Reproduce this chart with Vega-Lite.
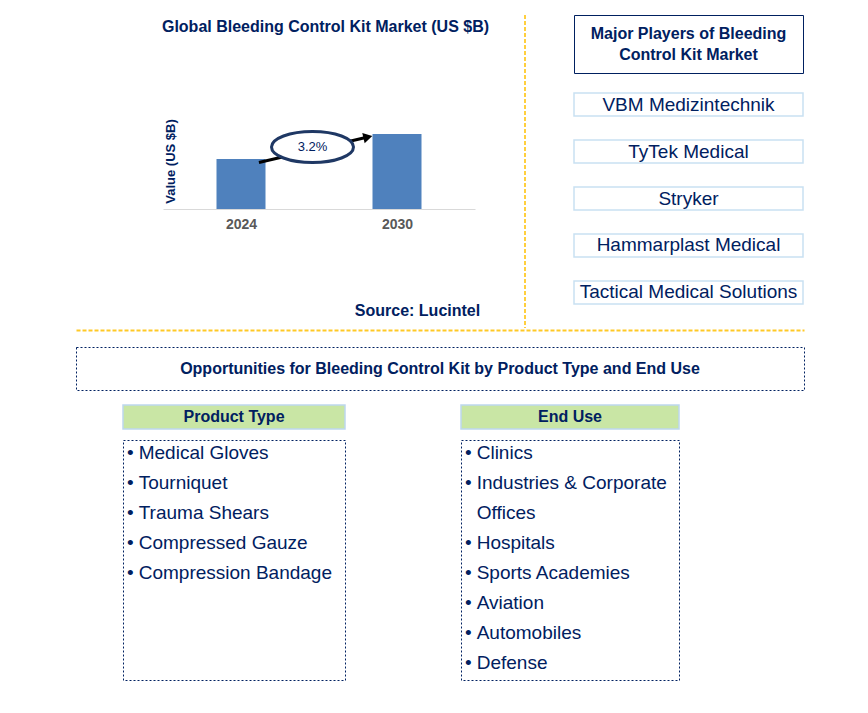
{
  "$schema": "https://vega.github.io/schema/vega-lite/v6.json",
  "background": "white",
  "padding": {"left": 75, "top": 14, "right": 0, "bottom": 0},
  "autosize": {"type": "pad"},
  "spacing": 0,
  "config": {
    "view": {"stroke": null},
    "font": "Liberation Sans"
  },
  "vconcat": [
    {
      "hconcat": [
        {
          "width": 449,
          "height": 313,
          "title": {
            "text": "Global Bleeding Control Kit Market (US $B)",
            "fontSize": 16,
            "fontWeight": "bold",
            "color": "#002060",
            "anchor": "middle",
            "frame": "group",
            "offset": 0,
            "dx": 25,
            "dy": 21
          },
          "layer": [
            {
              "data": {"values": [{}]},
              "mark": {"type": "rule", "color": "#FFC000", "strokeWidth": 1.5, "strokeDash": [4, 2]},
              "encoding": {"x": {"value": "width"}}
            },
            {
              "data": {"values": [
                {"year": 2024, "value": 1.0},
                {"year": 2030, "value": 1.5}
              ]},
              "mark": {"type": "bar", "size": 49, "color": "#4F81BD"},
              "encoding": {
                "x": {
                  "field": "year",
                  "type": "quantitative",
                  "scale": {"domain": [2021, 2033], "range": [87, 399], "padding": 0, "nice": false, "zero": false},
                  "axis": {
                    "orient": "bottom",
                    "offset": -119,
                    "values": [2024, 2030],
                    "format": "d",
                    "grid": false,
                    "ticks": false,
                    "tickSize": 0,
                    "domainColor": "#D9D9D9",
                    "domainWidth": 1,
                    "labelFontSize": 14,
                    "labelFontWeight": "bold",
                    "labelColor": "#595959",
                    "labelPadding": 8,
                    "title": "Source: Lucintel",
                    "titleFontSize": 16,
                    "titleFontWeight": "bold",
                    "titleColor": "#002060",
                    "titleX": 341,
                    "titleY": 101,
                    "titleAlign": "center",
                    "titleBaseline": "middle"
                  }
                },
                "y": {
                  "field": "value",
                  "type": "quantitative",
                  "scale": {"domain": [0, 2], "range": [194, 94], "nice": false},
                  "axis": {
                    "orient": "left",
                    "domain": false,
                    "ticks": false,
                    "labels": false,
                    "grid": false,
                    "title": "Value (US $B)",
                    "titleFontSize": 13,
                    "titleFontWeight": "bold",
                    "titleColor": "#002060",
                    "titleX": 94,
                    "titleY": 146,
                    "titleAngle": -90,
                    "titleAlign": "center",
                    "titleBaseline": "middle"
                  }
                }
              }
            },
            {
              "data": {"values": [
                {"start_year": 2024.69, "start_value": 0.93, "end_year": 2028.88, "end_value": 1.44, "label_year": 2026.75, "label_value": 1.24, "cagr": "3.2%"}
              ]},
              "layer": [
                {
                  "mark": {"type": "rule", "color": "black", "strokeWidth": 3},
                  "encoding": {
                    "x": {"field": "start_year", "type": "quantitative"},
                    "y": {"field": "start_value", "type": "quantitative"},
                    "x2": {"field": "end_year"},
                    "y2": {"field": "end_value"}
                  }
                },
                {
                  "mark": {"type": "point", "shape": "triangle-right", "size": 110, "filled": true, "color": "black", "opacity": 1, "angle": -13},
                  "encoding": {
                    "x": {"field": "end_year", "type": "quantitative"},
                    "y": {"field": "end_value", "type": "quantitative"}
                  }
                },
                {
                  "mark": {
                    "type": "point",
                    "shape": "M -1 0 A 1 0.38 0 1 1 1 0 A 1 0.38 0 1 1 -1 0 Z",
                    "size": 6724,
                    "filled": true,
                    "fill": "white",
                    "stroke": "#1F3864",
                    "strokeWidth": 3,
                    "opacity": 1
                  },
                  "encoding": {
                    "x": {"field": "label_year", "type": "quantitative"},
                    "y": {"field": "label_value", "type": "quantitative"}
                  }
                },
                {
                  "mark": {"type": "text", "fontSize": 13, "color": "#002060", "baseline": "middle"},
                  "encoding": {
                    "x": {"field": "label_year", "type": "quantitative"},
                    "y": {"field": "label_value", "type": "quantitative"},
                    "text": {"field": "cagr"}
                  }
                }
              ]
            }
          ]
        },
        {
          "vconcat": [
            {
              "width": 229,
              "height": 58,
              "view": {"stroke": "#002060", "strokeWidth": 1},
              "data": {"values": [{"heading": ["Major Players of Bleeding", "Control Kit Market"]}]},
              "mark": {"type": "text", "fontSize": 16, "fontWeight": "bold", "color": "#002060", "lineHeight": 21, "baseline": "middle", "dy": -10.5},
              "encoding": {"text": {"field": "heading"}}
            },
            {
              "width": 229,
              "height": 211,
              "data": {"values": [
                {"player": "VBM Medizintechnik"},
                {"player": "TyTek Medical"},
                {"player": "Stryker"},
                {"player": "Hammarplast Medical"},
                {"player": "Tactical Medical Solutions"}
              ]},
              "encoding": {
                "y": {"field": "player", "type": "nominal", "sort": null, "scale": {"paddingInner": 0.51, "paddingOuter": 0}, "axis": null}
              },
              "layer": [
                {
                  "mark": {"type": "rect", "fill": "white", "stroke": "#C9E1F2", "strokeWidth": 1.5},
                  "encoding": {"x": {"value": 0}, "x2": {"value": "width"}}
                },
                {
                  "mark": {"type": "text", "fontSize": 19, "color": "#002060", "baseline": "middle"},
                  "encoding": {"text": {"field": "player"}}
                }
              ]
            }
          ],
          "spacing": 18
        }
      ],
      "spacing": 47
    },
    {
      "vconcat": [
        {
          "width": 728,
          "height": 43,
          "view": {"stroke": "#002060", "strokeDash": [2, 2], "strokeWidth": 1},
          "data": {"values": [{"heading": "Opportunities for Bleeding Control Kit by Product Type and End Use"}]},
          "mark": {"type": "text", "fontSize": 16, "fontWeight": "bold", "color": "#002060", "baseline": "middle"},
          "encoding": {
            "text": {"field": "heading"},
            "x": {
              "datum": 0.5,
              "type": "quantitative",
              "scale": {"domain": [0, 1]},
              "axis": {"orient": "top", "offset": 17, "domainColor": "#FFC000", "domainOpacity": 0.85, "domainWidth": 2, "domainDash": [4, 2], "ticks": false, "labels": false, "grid": false, "title": null}
            }
          }
        },
        {
          "hconcat": [
            {
              "width": 46,
              "height": 1,
              "data": {"values": []},
              "mark": "point"
            },
            {
              "hconcat": [
                {
                  "vconcat": [
                    {
                      "width": 222,
                      "height": 24,
                      "view": {"fill": "#C9E6A5", "stroke": "#BDD7EE", "strokeWidth": 1.5},
                      "data": {"values": [{"heading": "Product Type"}]},
                      "mark": {"type": "text", "fontSize": 16, "fontWeight": "bold", "color": "#002060", "baseline": "middle"},
                      "encoding": {"text": {"field": "heading"}}
                    },
                    {
                      "width": 222,
                      "height": 240,
                      "view": {"stroke": "#002060", "strokeDash": [2, 2], "strokeWidth": 1},
                      "data": {"values": [
                        {"bullet": "•", "line": "Medical Gloves"},
                        {"bullet": "•", "line": "Tourniquet"},
                        {"bullet": "•", "line": "Trauma Shears"},
                        {"bullet": "•", "line": "Compressed Gauze"},
                        {"bullet": "•", "line": "Compression Bandage"}
                      ]},
                      "encoding": {
                        "y": {"field": "line", "type": "nominal", "sort": null, "scale": {"type": "point", "range": [13, 133], "padding": 0}, "axis": null}
                      },
                      "layer": [
                        {
                          "mark": {"type": "text", "align": "left", "baseline": "middle", "fontSize": 19, "color": "#002060"},
                          "encoding": {"text": {"field": "bullet"}, "x": {"value": 4}}
                        },
                        {
                          "mark": {"type": "text", "align": "left", "baseline": "middle", "fontSize": 19, "color": "#002060"},
                          "encoding": {"text": {"field": "line"}, "x": {"value": 15.7}}
                        }
                      ]
                    }
                  ],
                  "spacing": 9
                },
                {
                  "vconcat": [
                    {
                      "width": 218,
                      "height": 24,
                      "view": {"fill": "#C9E6A5", "stroke": "#BDD7EE", "strokeWidth": 1.5},
                      "data": {"values": [{"heading": "End Use"}]},
                      "mark": {"type": "text", "fontSize": 16, "fontWeight": "bold", "color": "#002060", "baseline": "middle"},
                      "encoding": {"text": {"field": "heading"}}
                    },
                    {
                      "width": 218,
                      "height": 240,
                      "view": {"stroke": "#002060", "strokeDash": [2, 2], "strokeWidth": 1},
                      "data": {"values": [
                        {"bullet": "•", "line": "Clinics"},
                        {"bullet": "•", "line": "Industries & Corporate"},
                        {"bullet": "", "line": "Offices"},
                        {"bullet": "•", "line": "Hospitals"},
                        {"bullet": "•", "line": "Sports Academies"},
                        {"bullet": "•", "line": "Aviation"},
                        {"bullet": "•", "line": "Automobiles"},
                        {"bullet": "•", "line": "Defense"}
                      ]},
                      "encoding": {
                        "y": {"field": "line", "type": "nominal", "sort": null, "scale": {"type": "point", "range": [13, 223], "padding": 0}, "axis": null}
                      },
                      "layer": [
                        {
                          "mark": {"type": "text", "align": "left", "baseline": "middle", "fontSize": 19, "color": "#002060"},
                          "encoding": {"text": {"field": "bullet"}, "x": {"value": 4}}
                        },
                        {
                          "mark": {"type": "text", "align": "left", "baseline": "middle", "fontSize": 19, "color": "#002060"},
                          "encoding": {"text": {"field": "line"}, "x": {"value": 15.7}}
                        }
                      ]
                    }
                  ],
                  "spacing": 9
                }
              ],
              "spacing": 114
            }
          ],
          "spacing": 0
        }
      ],
      "spacing": 13
    }
  ]
}
